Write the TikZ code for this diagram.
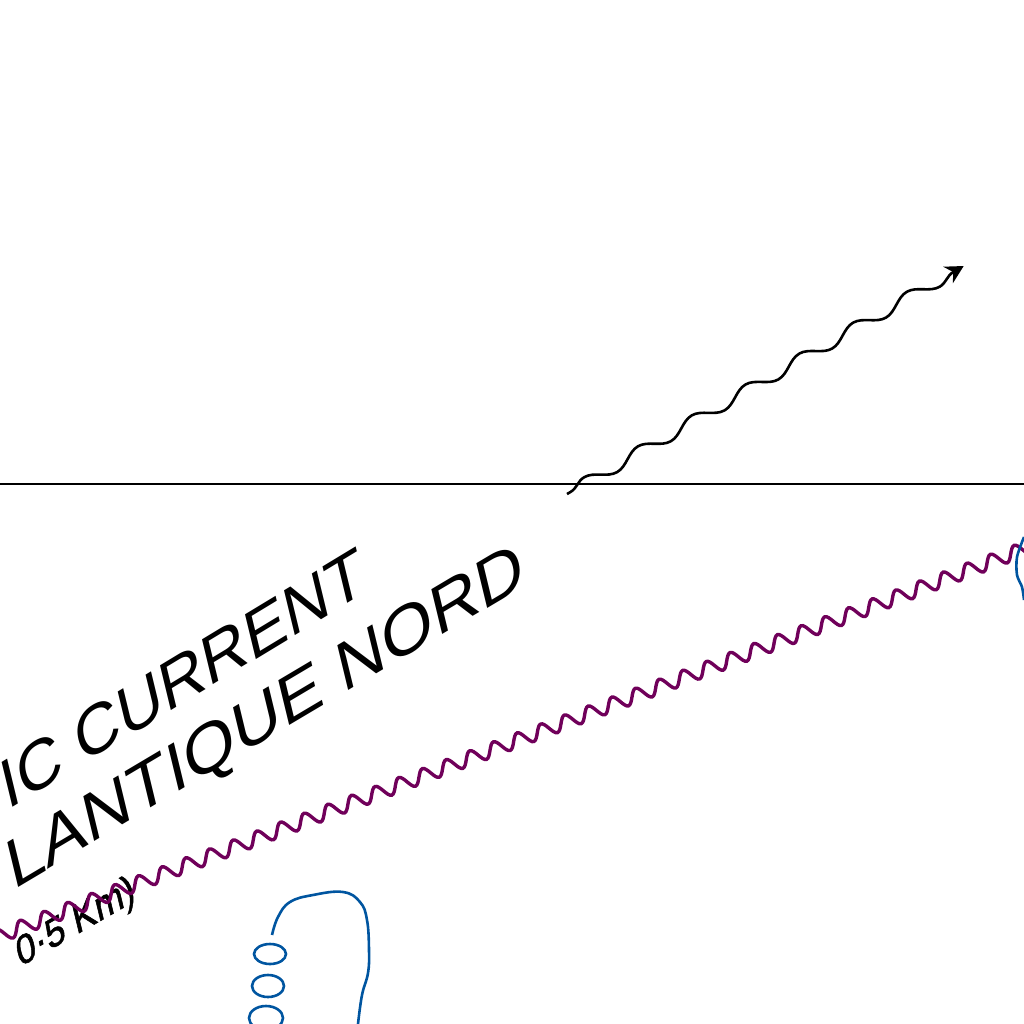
\documentclass[tikz,border=0pt]{standalone}
\usepackage{fontspec}
\setmainfont{Liberation Sans}
\newfontfamily\heavyfont[FakeBold=1.5]{Liberation Sans}
\usetikzlibrary{decorations.pathmorphing,arrows.meta}
\definecolor{wavepurple}{HTML}{70005A}
\definecolor{ringblue}{HTML}{0055A0}
\tikzset{
  seatext/.style={transform shape,anchor=base west,inner sep=0pt,outer sep=0pt},
  ring/.style={draw=ringblue,line width=2.6pt},
}
\begin{document}
\begin{tikzpicture}[x=1pt,y=-1pt]
\useasboundingbox (0,0) rectangle (1024,1024);
% Surface
\draw[line width=2.2pt] (0,484)--(1024,484);
% Labels
\node[seatext,cm={.875,.53,-.235,.972,(7,810)},font=\fontsize{67}{67}\selectfont] (current) at (0,0){IC CURRENT};
\node[seatext,cm={.935,.555,-.235,.972,(13,890)},font=\fontsize{67}{67}\selectfont] (nord) at (0,0){LANTIQUE NORD};
\node[seatext,cm={.82,.47,-.235,.972,(20,967)},font=\heavyfont\fontsize{40}{40}\selectfont] (depth) at (0,0){0·5 Km)};
% Radiation
\begin{scope}[cm={.87,.5,-.3,.95,(567,494)},y=1pt]
\coordinate (waveA) at (0,0);
\coordinate (waveB) at (456,0);
\draw[line width=2.6pt,-{Stealth[length=18pt,width=19pt,inset=6pt]},decorate,
  decoration={snake,segment length=62pt,amplitude=6pt,pre length=4pt,post length=5pt}] (waveA)--(waveB);
\end{scope}
% Current
\begin{scope}[cm={.9356,.353,0,1,(-8.6,938.7)},y=1pt]
\coordinate (driftA) at (0,0);
\coordinate (driftB) at (1120,0);
\draw[wavepurple,line width=3.4pt,decorate,
  decoration={snake,segment length=25.3pt,amplitude=7pt}] (driftA)--(driftB);
\end{scope}
% Rings
\draw[ring] plot[smooth,tension=.7] coordinates {(272,935)(278,917)(290,902)(313,895)(343,892)(360,902)(367,920)(369,950)(368,973)(362,995)(358,1024)};
\draw[ring] (270,954) ellipse (16 and 10);
\draw[ring] (268,986) ellipse (16 and 11);
\draw[ring] (266,1018) ellipse (17 and 12);
\draw[ring] plot[smooth] coordinates {(1024,537)(1017,557)(1017,575)(1022,587)(1024,600)};
\end{tikzpicture}
\end{document}
